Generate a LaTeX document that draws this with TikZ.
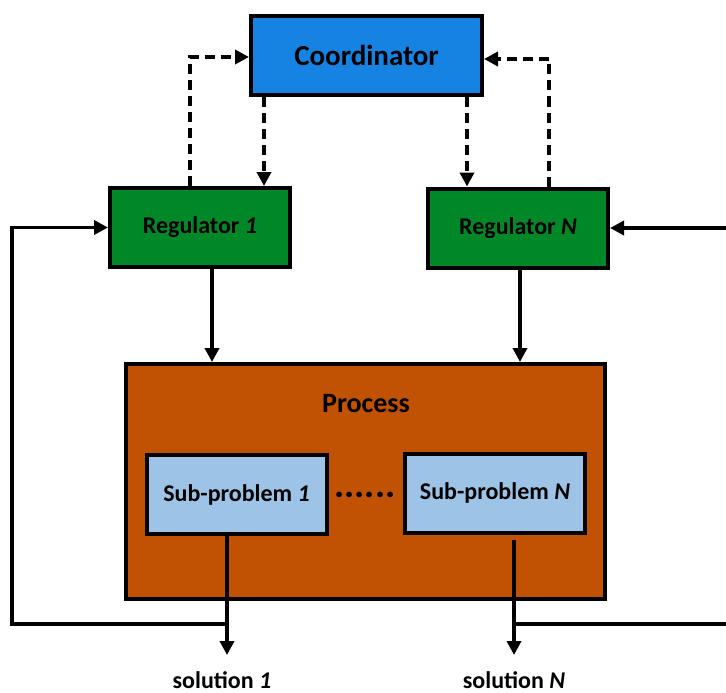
\documentclass[tikz,border=0pt]{standalone}
\usepackage{fontspec}
\setmainfont{Carlito}
\usetikzlibrary{arrows.meta,positioning}
\definecolor{coordblue}{RGB}{22,131,226}
\definecolor{reggreen}{RGB}{0,135,40}
\definecolor{procorange}{RGB}{193,82,2}
\definecolor{subblue}{RGB}{157,195,230}

\begin{document}
\begin{tikzpicture}[
    x=1pt, y=-1pt,
    box/.style={rectangle, draw=black, line width=4pt, align=center, inner sep=0pt},
    coordbox/.style={box, fill=coordblue, minimum width=231pt, minimum height=79pt, font=\fontsize{29}{34}\selectfont\bfseries},
    regbox/.style={box, fill=reggreen, minimum width=180pt, minimum height=79pt, font=\fontsize{24}{28}\selectfont\bfseries},
    procbox/.style={box, fill=procorange, minimum width=479pt, minimum height=235pt},
    subbox/.style={box, fill=subblue, minimum width=180pt, minimum height=79pt, font=\fontsize{24}{28}\selectfont\bfseries},
    arrow/.style={-{Triangle[length=14pt,width=14pt]}, line width=3.5pt},
    dasharrow/.style={arrow, dash pattern=on 10pt off 6pt},
    sol/.style={font=\fontsize{24}{28}\selectfont\bfseries, inner sep=0pt}
]
\useasboundingbox (0,0) rectangle (726,693);

% Coordinator
\node[coordbox] (coord) at (366.5,55.5) {Coordinator};

% Regulators
\node[regbox] (reg1) at (200,227.5) {Regulator \textit{1}};
\node[regbox] (regN) at (518,228) {Regulator \textit{N}};

% Process
\node[procbox] (process) at (365.5,481.5) {};
\node[font=\fontsize{28}{32}\selectfont\bfseries] (ptitle) at (366,404) {Process};
\node[subbox] (sub1) at (236.5,494.5) {Sub-problem \textit{1}};
\node[subbox] (subN) at (495,493) {Sub-problem \textit{N}};
\node[font=\fontsize{38}{38}\selectfont\bfseries, inner sep=0pt] (dots) at (365,495) {......};

% Solutions
\coordinate (end1) at (227,655);
\coordinate (endN) at (514,655);
\node[sol, below=16pt of end1, xshift=-5pt] (sol1) {solution \textit{1}};
\node[sol, below=16pt of endN] (solN) {solution \textit{N}};

% Arrows
\draw[arrow] ([xshift=12pt]reg1.south) -- ([xshift=12pt]reg1.south |- process.north);
\draw[arrow] ([xshift=2pt]regN.south) -- ([xshift=2pt]regN.south |- process.north);
\draw[arrow] (sub1.south -| end1) -- (end1);
\draw[arrow] ([yshift=-5pt]subN.south -| endN) -- (endN);

% Feedback
\coordinate (tap1) at (227,624);
\coordinate (tapN) at (514,624);
\draw[arrow] (tap1) -- (12,624) |- (reg1.west);
\draw[arrow] (tapN) -- (740,624) |- (regN.east);

% Coordination (dashed)
\draw[dasharrow] ([xshift=-10pt]reg1.north) |- ([yshift=-1.5pt]coord.west);
\draw[dasharrow] ([xshift=64pt]reg1.north |- coord.south) -- ([xshift=64pt]reg1.north);
\draw[dasharrow] ([xshift=-51pt]regN.north |- coord.south) -- ([xshift=-51pt]regN.north);
\draw[dasharrow] ([xshift=31pt]regN.north) |- ([yshift=-3.5pt]coord.east);

\end{tikzpicture}
\end{document}
